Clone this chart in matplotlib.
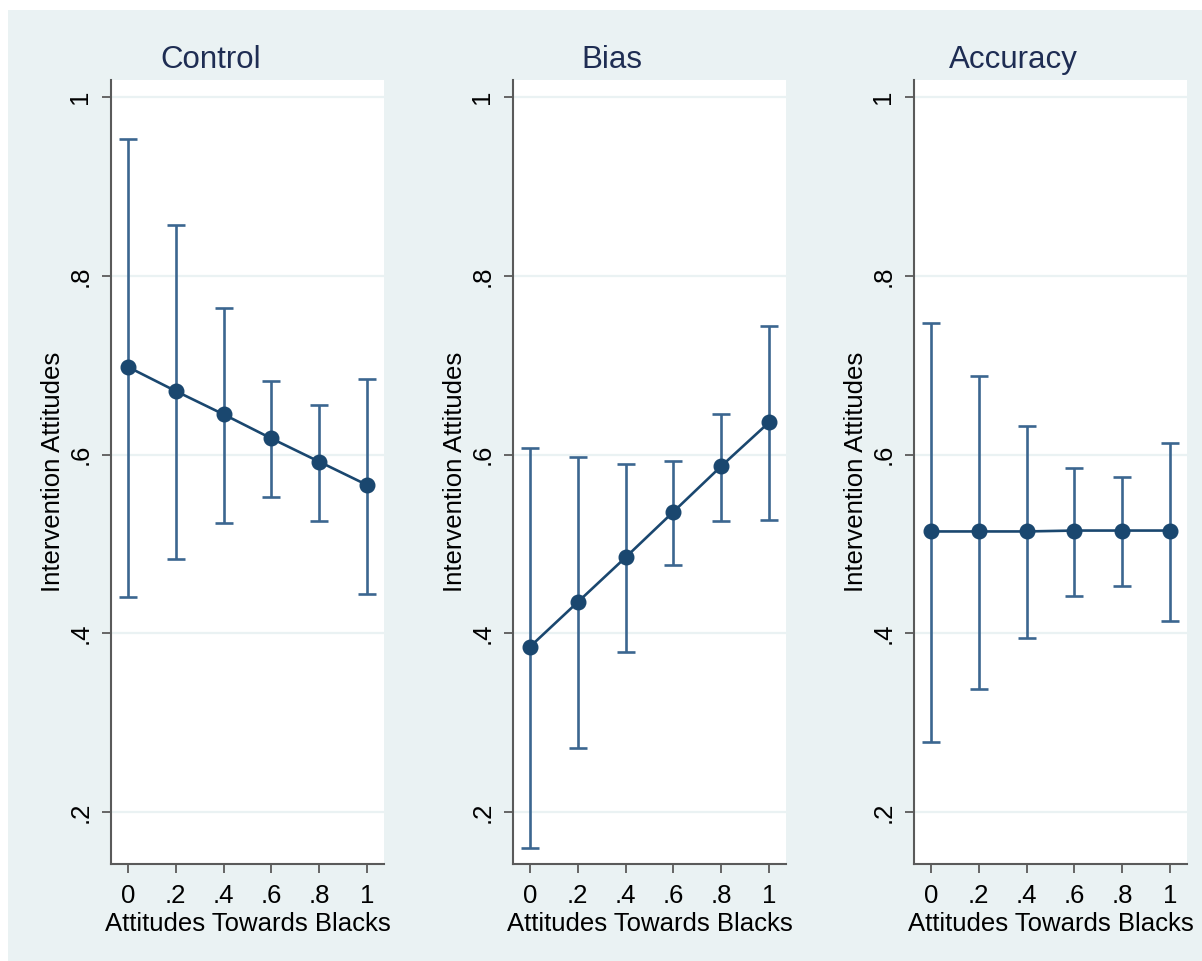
import matplotlib
matplotlib.use("Agg")
import matplotlib.pyplot as plt
from matplotlib.patches import Rectangle

plt.rcParams['font.family'] = ['Liberation Sans', 'DejaVu Sans']

# ---- data ----
x_values = [0, 0.2, 0.4, 0.6, 0.8, 1.0]
x_ticklabels = ["0", ".2", ".4", ".6", ".8", "1"]
y_ticks = [0.2, 0.4, 0.6, 0.8, 1.0]
y_ticklabels = [".2", ".4", ".6", ".8", "1"]
panel_titles = ["Control", "Bias", "Accuracy"]

control_est = [0.698, 0.671, 0.645, 0.618, 0.592, 0.566]
control_lo = [0.441, 0.483, 0.523, 0.552, 0.526, 0.444]
control_hi = [0.953, 0.857, 0.764, 0.682, 0.655, 0.684]

bias_est = [0.385, 0.435, 0.485, 0.536, 0.587, 0.636]
bias_lo = [0.160, 0.272, 0.379, 0.476, 0.526, 0.527]
bias_hi = [0.607, 0.597, 0.589, 0.593, 0.645, 0.744]

accuracy_est = [0.514, 0.514, 0.514, 0.515, 0.515, 0.515]
accuracy_lo = [0.279, 0.338, 0.395, 0.442, 0.453, 0.414]
accuracy_hi = [0.747, 0.688, 0.632, 0.585, 0.575, 0.613]

x_label = "Attitudes Towards Blacks"
y_label = "Intervention Attitudes"

series = [
    (control_est, control_lo, control_hi),
    (bias_est, bias_lo, bias_hi),
    (accuracy_est, accuracy_lo, accuracy_hi),
]

# ---- style ----
W, H = 1202, 961
BG = '#eaf2f3'
NAVY = '#1a476f'
BAR = '#3b6690'
TITLE_C = '#1e2d53'
SPINE = '#5a5a5a'

fig = plt.figure(figsize=(W / 100, H / 100), dpi=100, facecolor='white')
fig.patches.append(Rectangle((8 / W, 0), (W - 8) / W, (H - 10) / H,
                             transform=fig.transFigure, facecolor=BG,
                             edgecolor='none', zorder=-10))

panel_left = [111, 513, 914]
plot_w = 273
top_px, bottom_px = 80, 864
title_x = [211, 612, 1013]

for i, (est, lo, hi) in enumerate(series):
    ax = fig.add_axes([panel_left[i] / W, (H - bottom_px) / H,
                       plot_w / W, (bottom_px - top_px) / H])
    ax.set_facecolor('white')
    ax.set_xlim(-0.071, 1.071)
    ax.set_ylim(0.142, 1.019)
    for yv in y_ticks:
        ax.axhline(yv, color=BG, lw=1.6, zorder=0)
    yerr = [[e - l for e, l in zip(est, lo)], [h - e for e, h in zip(est, hi)]]
    ax.errorbar(x_values, est, yerr=yerr, fmt='none', ecolor=BAR,
                elinewidth=1.9, capsize=6.5, capthick=1.9, zorder=2)
    ax.plot(x_values, est, color=NAVY, lw=1.9, zorder=3)
    ax.plot(x_values, est, 'o', color=NAVY, ms=10.5, zorder=4)

    for s in ['top', 'right']:
        ax.spines[s].set_visible(False)
    for s in ['left', 'bottom']:
        ax.spines[s].set_color(SPINE)
        ax.spines[s].set_linewidth(1.5)

    ax.set_xticks(x_values)
    ax.set_xticklabels(x_ticklabels)
    ax.set_yticks(y_ticks)
    ax.set_yticklabels(y_ticklabels, rotation=90, va='center')
    ax.tick_params(axis='both', length=6.5, width=1.3, color=SPINE,
                   labelsize=18.5, labelcolor='black')
    ax.tick_params(axis='x', pad=8)
    ax.tick_params(axis='y', pad=7)
    ax.set_xlabel(x_label, fontsize=18.5, labelpad=3)
    ax.set_ylabel(y_label, fontsize=18.5, labelpad=2)

    fig.text(title_x[i] / W, 1 - 60 / H, panel_titles[i], fontsize=22.5,
             color=TITLE_C, ha='center', va='center')

fig.savefig('out.png', dpi=100, facecolor='white')
